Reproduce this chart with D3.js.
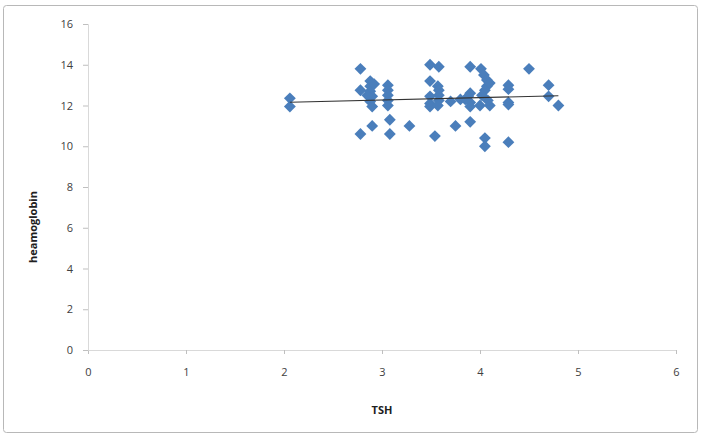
<!DOCTYPE html>
<html>
<head>
<meta charset="utf-8">
<script src="https://cdn.jsdelivr.net/npm/d3@7"></script>
<style>
  body { margin: 0; background: #fff; }
  .tick text { font-family: "Open Sans", "Liberation Sans", sans-serif; font-size: 11px; fill: #404040; }
  .axis-title { font-family: "Open Sans", "Liberation Sans", sans-serif; font-size: 11px; font-weight: bold; fill: #202020; }
</style>
</head>
<body>
<div id="chart"></div>
<script>
// TSH vs haemoglobin
var tsh = [2.06, 2.06, 2.78, 2.78, 2.78, 2.88, 2.88, 2.88, 2.9, 2.88, 2.9, 2.85, 2.9,
           3.06, 3.06, 3.06, 3.06, 3.06, 3.08, 3.08, 3.28,
           3.49, 3.49, 3.49, 3.49, 3.49, 3.54, 3.58, 3.57, 3.58, 3.58, 3.58, 3.57,
           3.7, 3.75, 3.8, 3.85, 3.9, 3.9, 3.88, 3.9, 3.9, 3.9,
           4.01, 4.04, 4.07, 4.07, 4.05, 4.02, 4.0, 4.1, 4.08, 4.05, 4.05,
           4.29, 4.29, 4.29, 4.29, 4.29, 4.5, 4.7, 4.7, 4.8, 4.1, 2.92];
var haemoglobin = [12.35, 11.95, 13.8, 12.75, 10.6, 13.2, 12.95, 12.7, 12.45, 12.2, 11.95, 12.5, 11.0,
                   13.0, 12.75, 12.5, 12.25, 12.0, 11.3, 10.6, 11.0,
                   14.0, 13.2, 12.45, 12.1, 11.95, 10.5, 13.9, 12.95, 12.75, 12.5, 12.25, 12.0,
                   12.2, 11.0, 12.3, 12.3, 13.9, 12.6, 12.45, 12.15, 11.95, 11.2,
                   13.8, 13.5, 13.25, 12.95, 12.75, 12.5, 12.0, 12.0, 12.25, 10.4, 10.0,
                   13.0, 12.8, 12.15, 12.05, 10.2, 13.8, 13.0, 12.45, 12.0, 13.1, 13.05];
// linear trendline end points
var trendX = [2.06, 4.8];
var trendY = [12.16, 12.48];
var xTicks = [0, 1, 2, 3, 4, 5, 6];
var yTicks = [0, 2, 4, 6, 8, 10, 12, 14, 16];

var W = 701, H = 436;
var margin = { top: 24, right: 25, bottom: 86, left: 88 },
    width = W - margin.left - margin.right,
    height = H - margin.top - margin.bottom;

var svg = d3.select("#chart").append("svg")
    .attr("width", W)
    .attr("height", H);

// outer chart border
svg.append("rect")
    .attr("x", 3.5).attr("y", 5.5)
    .attr("width", W - 7).attr("height", H - 9)
    .attr("rx", 3)
    .attr("fill", "none")
    .attr("stroke", "#b8b8b8");

var g = svg.append("g")
    .attr("transform", "translate(" + margin.left + "," + margin.top + ")");

var x = d3.scaleLinear().domain([0, 6]).range([0, width]);
var y = d3.scaleLinear().domain([0, 16]).range([height, 0]);

var xAxis = g.append("g")
    .attr("transform", "translate(0," + height + ")")
    .call(d3.axisBottom(x).tickValues(xTicks).tickFormat(d3.format("d")).tickSize(4).tickPadding(14));
xAxis.select(".domain").attr("stroke", "#d9d9d9");
xAxis.selectAll(".tick line").attr("stroke", "#bfbfbf");

var yAxis = g.append("g")
    .call(d3.axisLeft(y).tickValues(yTicks).tickFormat(d3.format("d")).tickSize(5).tickPadding(10));
yAxis.select(".domain").attr("stroke", "#d9d9d9");
yAxis.selectAll(".tick line").attr("stroke", "#bfbfbf");

var pts = tsh.map(function(d, i) { return { x: d, y: haemoglobin[i] }; });

var diamond = d3.symbol().type(d3.symbolSquare).size(70);
g.selectAll(".dot")
    .data(pts)
    .enter().append("path")
    .attr("class", "dot")
    .attr("d", diamond)
    .attr("transform", function(d) { return "translate(" + x(d.x) + "," + y(d.y) + ") rotate(45)"; })
    .attr("fill", "#4a7ebb");

var trend = trendX.map(function(d, i) { return { x: d, y: trendY[i] }; });
var line = d3.line()
    .x(function(d) { return x(d.x); })
    .y(function(d) { return y(d.y); });
g.append("path")
    .datum(trend)
    .attr("d", line)
    .attr("fill", "none")
    .attr("stroke", "#333")
    .attr("stroke-width", 1.1);

g.append("text")
    .attr("class", "axis-title")
    .attr("x", width / 2)
    .attr("y", height + 64)
    .attr("text-anchor", "middle")
    .text("TSH");

g.append("text")
    .attr("class", "axis-title")
    .attr("transform", "translate(-51," + (height / 2 + 40) + ") rotate(-90)")
    .attr("text-anchor", "middle")
    .text("heamoglobin");
</script>
</body>
</html>
